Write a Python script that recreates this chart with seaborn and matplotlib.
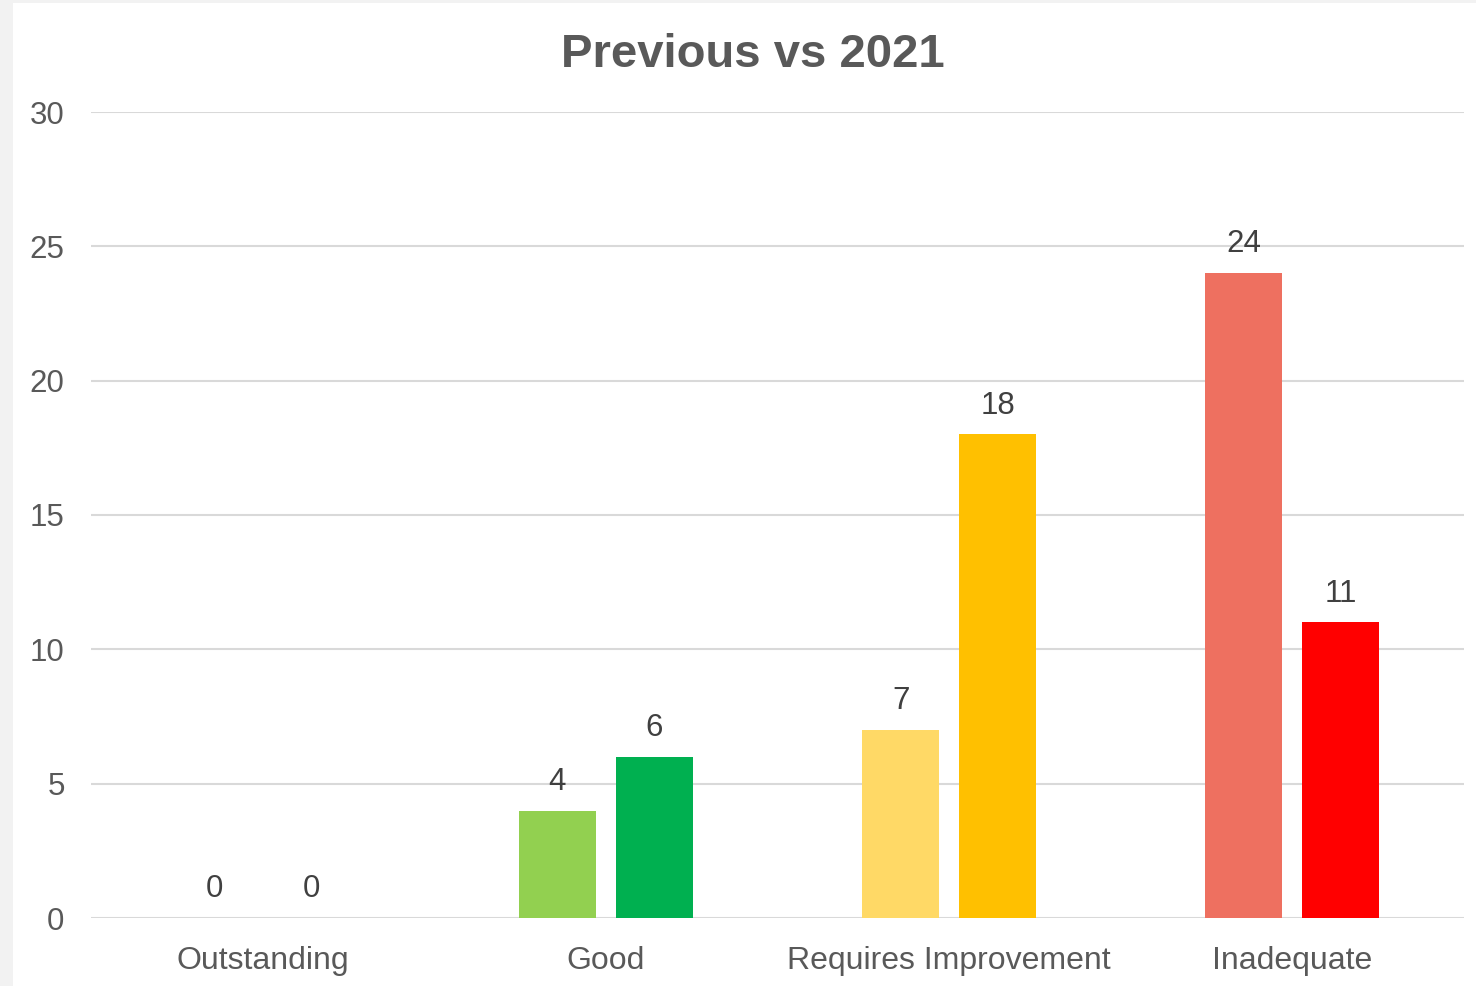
import pandas as pd
import numpy as np
import seaborn as sns
import matplotlib.pyplot as plt
from matplotlib.patches import Rectangle

categories = ["Outstanding", "Good", "Requires Improvement", "Inadequate"]
periods = ["Previous", "2021"]
previous = [0, 4, 7, 24]
current = [0, 6, 18, 11]
prev_colors = ["#9dc3e6", "#92d050", "#ffd966", "#ee7060"]
curr_colors = ["#2e75b6", "#00b050", "#ffc000", "#ff0000"]
y_ticks = [0, 5, 10, 15, 20, 25, 30]

df = pd.DataFrame(
    {
        "category": categories * 2,
        "period": [periods[0]] * len(categories) + [periods[1]] * len(categories),
        "value": previous + current,
    }
)

sns.set_style("white")
plt.rcParams["font.family"] = ["Liberation Sans", "DejaVu Sans"]

fig = plt.figure(figsize=(14.76, 9.86), dpi=100, facecolor="#f2f2f2")
# white chart area, grey strip left and top
fig.add_artist(
    Rectangle((13 / 1476, 0), 1, 1 - 3 / 986, transform=fig.transFigure,
              facecolor="white", edgecolor="none", zorder=-10)
)
ax = fig.add_axes([91 / 1476, 1 - 918 / 986, (1464 - 91) / 1476, (918 - 112) / 986])
ax.set_facecolor("none")
ax.set_zorder(5)

sns.barplot(
    data=df, x="category", y="value", hue="period", hue_order=periods,
    order=categories, width=0.565, gap=0.207, legend=False, ax=ax,
    linewidth=0, saturation=1,
)

for cont, cols in zip(ax.containers, [prev_colors, curr_colors]):
    for bar, c in zip(cont, cols):
        bar.set_facecolor(c)
    ax.bar_label(cont, padding=10, fontsize=22.5, color="#404040")

ax.set_ylim(0, 30)
ax.set_xlim(-0.5, 3.5)
ax.set_yticks(y_ticks)
ax.yaxis.grid(True, color="#d9d9d9", linewidth=1.5)
ax.set_axisbelow(True)
for s in ax.spines.values():
    s.set_visible(False)
ax.tick_params(axis="y", labelsize=22.5, labelcolor="#595959", length=0, pad=19)
ax.tick_params(axis="x", labelsize=23, labelcolor="#595959", length=0, pad=20)
ax.set_xlabel("")
ax.set_ylabel("")

fig.text(0.51, 1 - 55 / 986, "Previous vs 2021", ha="center", va="center",
         fontsize=34, fontweight="bold", color="#595959")

fig.savefig("out.png", dpi=100, facecolor=fig.get_facecolor())
